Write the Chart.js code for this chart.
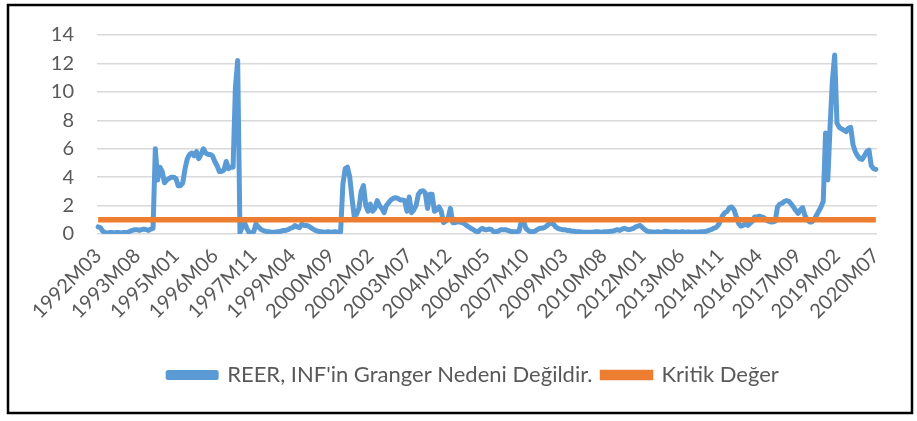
<!DOCTYPE html>
<html>
<head>
<meta charset="utf-8">
<script src="https://cdn.jsdelivr.net/npm/chart.js@4.4.1/dist/chart.umd.min.js"></script>
<style>
html,body{margin:0;padding:0;background:#ffffff;}
#wrap{position:absolute;left:0;top:0;width:917px;height:421px;}
</style>
</head>
<body>
<div id="wrap"><canvas id="c" width="917" height="421"></canvas></div>
<script>
// ---- data ----
const startYear = 1992;
const startMonth = 3;
const tickLabels = ["1992M03","1993M08","1995M01","1996M06","1997M11","1999M04","2000M09","2002M02","2003M07","2004M12","2006M05","2007M10","2009M03","2010M08","2012M01","2013M06","2014M11","2016M04","2017M09","2019M02","2020M07"];
const yTicks = [0, 2, 4, 6, 8, 10, 12, 14];
const seriesNames = ["REER, INF'in Granger Nedeni Değildir.", "Kritik Değer"];
const reerInf = [
0.5,0.45,0.2,0.1,0.08,0.1,0.1,0.08,0.1,0.1,
0.08,0.1,0.1,0.12,0.2,0.25,0.3,0.3,0.25,0.3,
0.35,0.3,0.25,0.35,0.4,6.0,3.8,4.7,4.4,3.6,
3.8,3.9,4.0,4.0,3.9,3.4,3.4,3.6,4.6,5.3,
5.6,5.7,5.5,5.8,5.3,5.6,6.0,5.7,5.6,5.6,
5.5,5.1,4.8,4.4,4.4,4.5,5.1,4.6,4.7,4.7,
10.3,12.2,0.1,0.5,0.8,0.4,0.1,0.1,0.15,0.7,
0.5,0.35,0.25,0.2,0.15,0.15,0.12,0.12,0.15,0.15,
0.2,0.25,0.25,0.3,0.4,0.45,0.6,0.5,0.45,0.7,
0.6,0.6,0.55,0.45,0.35,0.25,0.2,0.15,0.15,0.12,
0.15,0.15,0.12,0.15,0.15,0.12,0.15,3.5,4.6,4.7,
4.0,2.5,1.2,1.4,1.8,3.0,3.4,2.0,1.6,2.1,
1.6,1.8,2.35,2.0,1.8,1.5,2.0,2.2,2.4,2.5,
2.55,2.5,2.4,2.4,2.35,1.6,2.6,1.5,1.7,2.0,
2.8,3.0,3.05,2.9,1.8,2.8,2.8,1.6,1.7,1.9,
1.6,0.8,0.9,1.1,1.8,0.8,0.8,0.85,0.85,0.8,
0.75,0.6,0.5,0.4,0.3,0.2,0.15,0.3,0.4,0.3,
0.3,0.35,0.3,0.15,0.15,0.2,0.3,0.3,0.3,0.25,
0.2,0.15,0.15,0.15,0.2,0.9,0.85,0.4,0.25,0.15,
0.15,0.2,0.3,0.4,0.4,0.45,0.55,0.7,0.75,0.7,
0.5,0.4,0.35,0.3,0.3,0.25,0.25,0.2,0.2,0.15,
0.15,0.15,0.12,0.12,0.12,0.12,0.12,0.15,0.15,0.15,
0.12,0.15,0.15,0.15,0.2,0.2,0.25,0.3,0.25,0.35,
0.4,0.35,0.3,0.35,0.4,0.5,0.55,0.6,0.45,0.3,
0.2,0.15,0.15,0.12,0.15,0.15,0.12,0.15,0.2,0.15,
0.15,0.12,0.15,0.15,0.12,0.15,0.15,0.12,0.15,0.12,
0.12,0.15,0.12,0.15,0.15,0.15,0.2,0.25,0.3,0.4,
0.45,0.6,0.9,1.3,1.5,1.6,1.85,1.9,1.7,1.2,
0.75,0.55,0.6,0.75,0.6,0.75,0.9,1.2,1.2,1.25,
1.2,1.15,1.0,0.9,0.85,0.85,0.9,1.9,2.1,2.15,
2.3,2.35,2.3,2.1,1.9,1.65,1.45,1.7,1.85,1.3,
1.0,0.85,0.85,1.0,1.3,1.6,1.9,2.3,7.1,3.8,
7.6,10.8,12.6,7.8,7.5,7.4,7.3,7.2,7.45,7.5,
6.3,5.8,5.5,5.3,5.25,5.5,5.8,5.9,4.8,4.6,
4.55
];
const criticalValue = 1.0;

// ---- categories (monthly, from start) ----
const months = [];
for (let i = 0; i < reerInf.length; i++) {
  const m = startMonth - 1 + i;
  months.push((startYear + Math.floor(m / 12)) + 'M' + String(m % 12 + 1).padStart(2, '0'));
}
const critical = months.map(() => criticalValue);

const FONT = 'Lato, "Open Sans", sans-serif';
const TXT = '#595959';

const framePlugin = {
  id: 'frame',
  afterDraw(chart) {
    const ctx = chart.ctx;
    ctx.save();
    ctx.strokeStyle = '#000000';
    ctx.lineWidth = 2.5;
    ctx.strokeRect(8, 5, 904, 408);
    ctx.restore();
  }
};

const legendShift = {
  id: 'legendShift',
  afterLayout(chart) {
    if (chart.legend) { chart.legend.left += 15; chart.legend.right += 15; }
  }
};

new Chart(document.getElementById('c'), {
  type: 'line',
  data: {
    labels: months,
    datasets: [
      {
        label: seriesNames[0],
        data: reerInf,
        borderColor: '#5B9BD5',
        backgroundColor: '#5B9BD5',
        borderWidth: 5,
        pointRadius: 0,
        tension: 0,
        borderJoinStyle: 'round',
        borderCapStyle: 'round',
        order: 2
      },
      {
        label: seriesNames[1],
        data: critical,
        borderColor: '#ED7D31',
        backgroundColor: '#ED7D31',
        borderWidth: 5.5,
        pointRadius: 0,
        tension: 0,
        order: 1
      }
    ]
  },
  options: {
    responsive: false,
    animation: false,
    devicePixelRatio: 1,
    layout: { padding: { left: 40, right: 40, top: 29, bottom: 25 } },
    plugins: {
      legend: {
        position: 'bottom',
        labels: {
          color: TXT,
          font: { family: FONT, size: 22 },
          boxWidth: 48,
          boxHeight: 5,
          padding: 10,
          sort: (a, b) => a.datasetIndex - b.datasetIndex
        }
      },
      tooltip: { enabled: false },
      title: { display: false }
    },
    scales: {
      x: {
        type: 'category',
        offset: true,
        grid: { display: false, drawTicks: false },
        border: { display: false },
        ticks: {
          autoSkip: false,
          minRotation: 45,
          maxRotation: 45,
          padding: 10,
          color: TXT,
          font: { family: FONT, size: 20 },
          callback: function (v, i) { return tickLabels.includes(months[i]) ? months[i] : ''; }
        },
        afterFit: function (scale) { scale.height = 120; }
      },
      y: {
        min: 0,
        max: 14,
        afterBuildTicks: function (scale) { scale.ticks = yTicks.map(v => ({ value: v })); },
        grid: { color: '#D9D9D9', lineWidth: 1.5, drawTicks: false },
        border: { display: false },
        ticks: {
          padding: 23,
          color: TXT,
          font: { family: FONT, size: 20 }
        },
        afterFit: function (scale) { scale.width = 57; }
      }
    }
  },
  plugins: [framePlugin, legendShift]
});
</script>
</body>
</html>
